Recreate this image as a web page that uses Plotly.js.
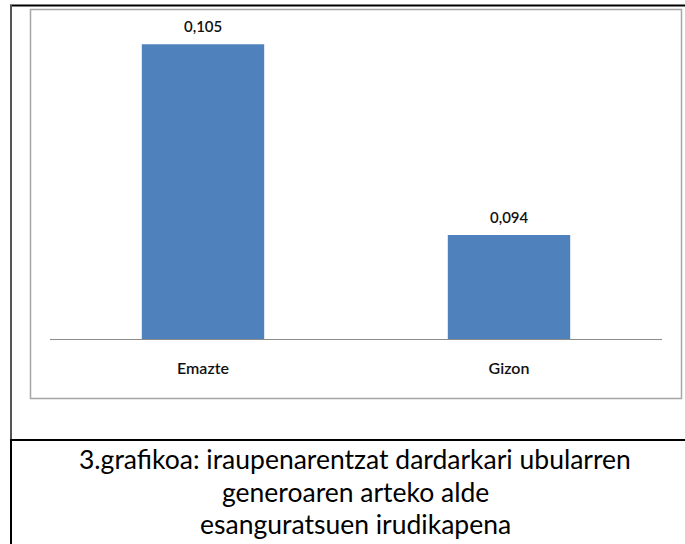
<!DOCTYPE html>
<html>
<head>
<meta charset="utf-8">
<script src="https://cdn.plot.ly/plotly-3.0.1.min.js"></script>
<style>html,body{margin:0;padding:0;background:#fff;}#chart{width:685px;height:544px;}</style>
</head>
<body>
<div id="chart"></div>
<script>
// Data
const categories = ["Emazte", "Gizon"];
const values = [0.105, 0.094];
const captionLines = [
  "3.grafikoa: iraupenarentzat dardarkari ubularren",
  "generoaren arteko alde",
  "esanguratsuen irudikapena"
];

// Layout geometry (pixels)
const W = 685, H = 544;
const M = {l: 50, r: 23, t: 27, b: 205};
const PW = W - M.l - M.r, PH = H - M.t - M.b;
const px = x => (x - M.l) / PW;
const py = y => (H - M.b - y) / PH;

const trace = {
  type: "bar",
  x: categories,
  y: values,
  marker: {color: "#4F81BD"},
  width: 0.4,
  hoverinfo: "none"
};

const labelAnns = categories.map((c, i) => ({
  x: c, y: values[i], xref: "x", yref: "y",
  text: values[i].toFixed(3).replace(".", ","),
  showarrow: false, yanchor: "bottom", yshift: 7,
  font: {family: "Lato, 'DejaVu Sans', sans-serif", size: 15, color: "#111", weight: 600}
}));

const capY = [459, 492, 524];
const capAnns = captionLines.map((t, i) => ({
  x: px(355), y: py(capY[i]), xref: "paper", yref: "paper",
  text: t, showarrow: false, xanchor: "center", yanchor: "middle",
  borderpad: 0,
  font: {family: "Lato, 'Open Sans', sans-serif", size: 26.5, color: "#000"}
}));

const shapes = [
  {type: "line", xref: "paper", yref: "paper", x0: px(10), x1: px(700), y0: py(5.5), y1: py(5.5), line: {color: "#000", width: 2}},
  {type: "line", xref: "paper", yref: "paper", x0: px(11), x1: px(11), y0: py(5), y1: py(440), line: {color: "#555", width: 2}},
  {type: "line", xref: "paper", yref: "paper", x0: px(11), x1: px(11), y0: py(440), y1: py(560), line: {color: "#000", width: 2}},
  {type: "line", xref: "paper", yref: "paper", x0: px(10), x1: px(700), y0: py(440), y1: py(440), line: {color: "#000", width: 2}},
  {type: "rect", xref: "paper", yref: "paper", x0: px(30.5), x1: px(681.5), y0: py(9.5), y1: py(398.5), line: {color: "#a6a6a6", width: 1.5}, fillcolor: "rgba(0,0,0,0)"}
];

const layout = {
  width: W, height: H,
  margin: M,
  paper_bgcolor: "#fff", plot_bgcolor: "#fff",
  showlegend: false,
  separators: ",.",
  xaxis: {
    range: [-0.5, 1.5], showline: true, linecolor: "#8c8c8c", linewidth: 1,
    showgrid: false, zeroline: false, ticks: "", fixedrange: true,
    ticklabelstandoff: 15,
    tickfont: {family: "Lato, 'DejaVu Sans', sans-serif", size: 16, color: "#111", weight: 600}
  },
  yaxis: {range: [0.088, 0.106], visible: false, fixedrange: true},
  annotations: labelAnns.concat(capAnns),
  shapes: shapes
};

Plotly.newPlot("chart", [trace], layout, {displayModeBar: false, staticPlot: true});
</script>
</body>
</html>
